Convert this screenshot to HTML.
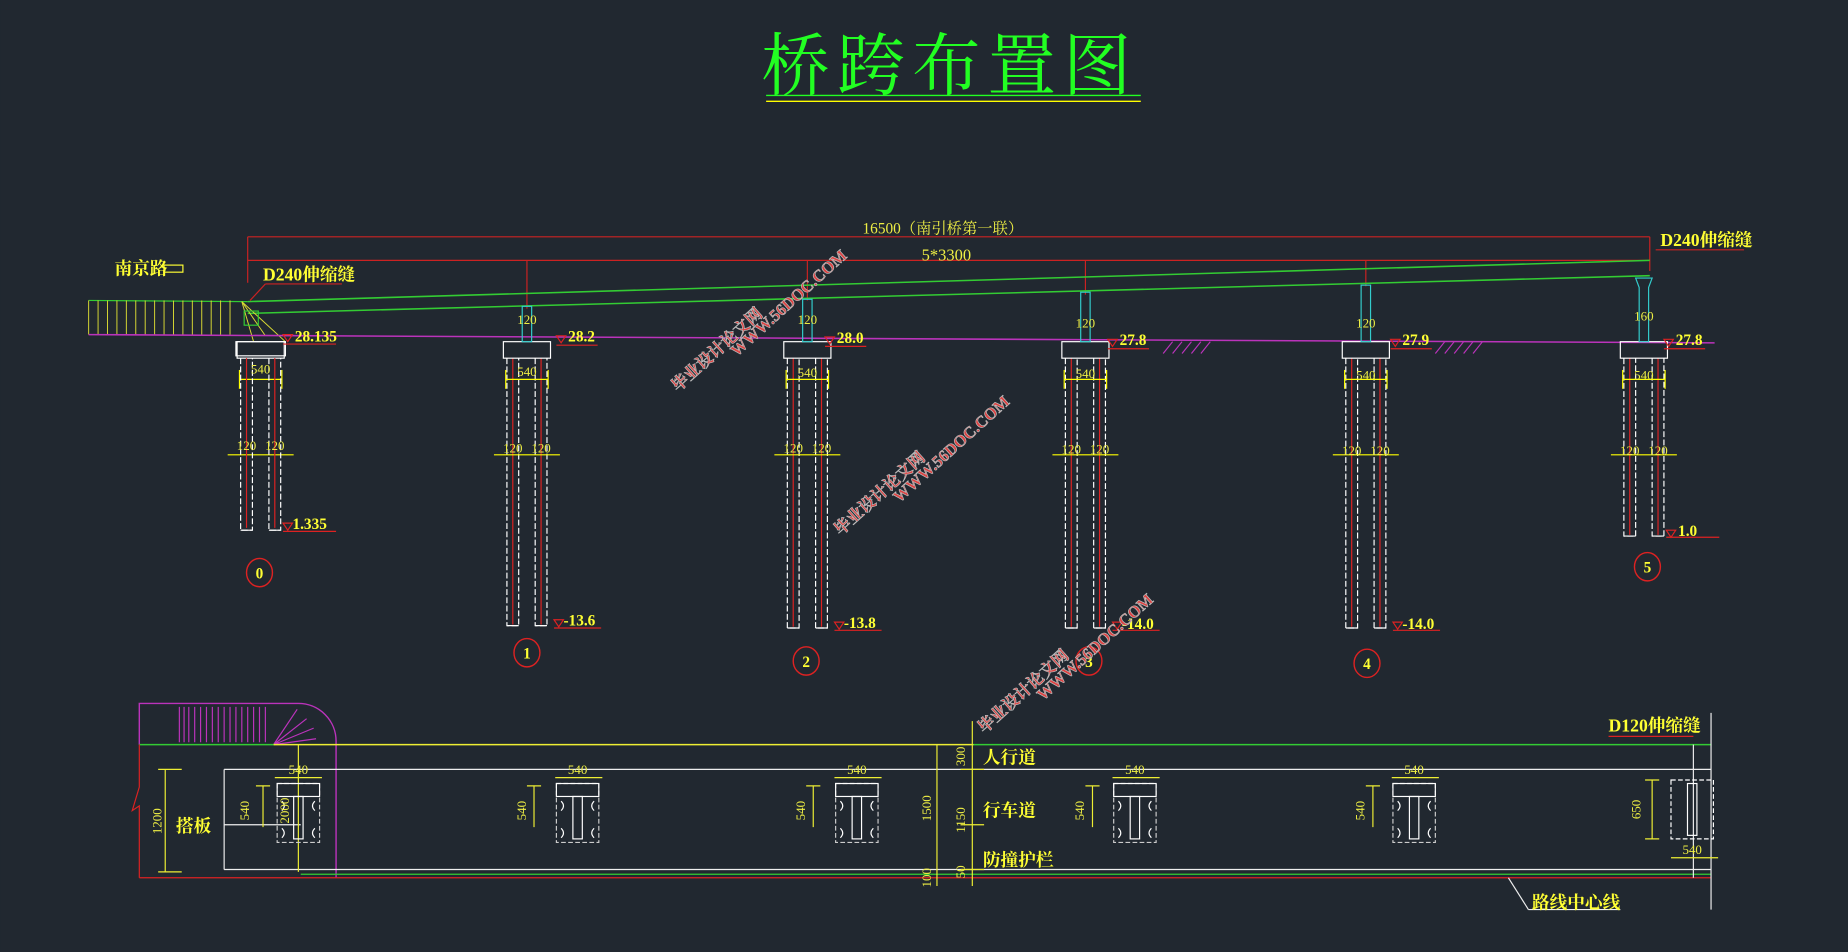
<!DOCTYPE html>
<html><head><meta charset="utf-8"><style>
html,body{margin:0;padding:0;background:#212830;width:1848px;height:952px;overflow:hidden}
svg{display:block}
text{font-family:"Liberation Serif","Noto Serif CJK SC","Noto Sans CJK SC",serif}
</style></head><body>
<svg width="1848" height="952" viewBox="0 0 1568 808" xmlns="http://www.w3.org/2000/svg">
<rect width="1568" height="808" fill="#212830"/>
<defs>
<g id="cap" fill="none">
<rect x="-20" y="290" width="40" height="14" stroke="#fff" stroke-width="1"/>
<line x1="-18" y1="322" x2="18" y2="322" stroke="#ff0" stroke-width="1"/>
<line x1="-18" y1="314" x2="-18" y2="330" stroke="#ff0"/>
<line x1="18" y1="314" x2="18" y2="330" stroke="#ff0"/>
<line x1="-28" y1="386" x2="28" y2="386" stroke="#ff0"/>
</g>
<g id="pl" fill="none">
<rect x="-18" y="-60" width="36" height="50" stroke="#ccc" stroke-dasharray="4 2"/>
<rect x="-18" y="-60" width="36" height="11" stroke="#fff"/>
<path d="M-14 -45 q4 4 0 8 M14 -45 q-4 4 0 8 M-14 -22 q4 4 0 8 M14 -22 q-4 4 0 8" stroke="#fff"/>
<rect x="-4" y="-49" width="8" height="36" stroke="#fff"/>
</g>
</defs>

<!-- title -->
<text x="806" y="76" font-size="58" fill="#2f2" text-anchor="middle" font-family="'Noto Serif CJK SC',serif" letter-spacing="6">桥跨布置图</text>
<line x1="650" y1="81" x2="968" y2="81" stroke="#2f2" stroke-width="1.2"/>
<line x1="650" y1="86" x2="968" y2="86" stroke="#ff0" stroke-width="1.2"/>

<!-- top dims -->
<g stroke="#c22" stroke-width="1" fill="none">
<line x1="210" y1="201" x2="1400" y2="201"/>
<line x1="210" y1="221" x2="1400" y2="221"/>
<line x1="210" y1="201" x2="210" y2="240"/>
<line x1="1400" y1="201" x2="1400" y2="230"/>
<line x1="447" y1="221" x2="447" y2="262"/>
<line x1="685" y1="221" x2="685" y2="255"/>
<line x1="921" y1="221" x2="921" y2="250"/>
<line x1="1159" y1="221" x2="1159" y2="243"/>
</g>
<text x="800" y="198" font-size="13" fill="#ee4" text-anchor="middle">16500（南引桥第一联）</text>
<text x="803" y="221" font-size="14" fill="#ee4" text-anchor="middle">5*3300</text>

<!-- girder -->
<line x1="210" y1="256" x2="1400" y2="221" stroke="#3c3" stroke-width="1.3"/>
<line x1="210" y1="266" x2="1400" y2="234" stroke="#3c3" stroke-width="1.3"/>
<!-- approach -->
<line x1="75" y1="255" x2="210" y2="256" stroke="#3c3"/>
<g stroke="#dd3" stroke-width="0.8">
<line x1="75" y1="255" x2="75" y2="284"/><line x1="83" y1="255" x2="83" y2="284"/><line x1="91" y1="255" x2="91" y2="284"/><line x1="99" y1="255" x2="99" y2="284"/><line x1="107" y1="255" x2="107" y2="284"/><line x1="115" y1="255" x2="115" y2="284"/><line x1="123" y1="255" x2="123" y2="284"/><line x1="131" y1="255" x2="131" y2="284"/><line x1="139" y1="255" x2="139" y2="284"/><line x1="147" y1="255" x2="147" y2="284"/><line x1="155" y1="255" x2="155" y2="284"/><line x1="163" y1="255" x2="163" y2="284"/><line x1="171" y1="255" x2="171" y2="284"/><line x1="179" y1="255" x2="179" y2="284"/><line x1="187" y1="255" x2="187" y2="284"/><line x1="195" y1="255" x2="195" y2="284"/>
<line x1="205" y1="256" x2="225" y2="285"/><line x1="205" y1="256" x2="242" y2="290"/><line x1="205" y1="256" x2="215" y2="290"/>
</g>
<rect x="207" y="264" width="12" height="12" fill="none" stroke="#3c3"/>
<text x="97" y="233" font-size="15" fill="#ff3" font-weight="bold">南京路</text>
<rect x="139" y="225" width="16" height="6" fill="none" stroke="#ff3"/>
<text x="223" y="238" font-size="15" fill="#ff3" font-weight="bold">D240伸缩缝</text>
<line x1="225" y1="241" x2="290" y2="241" stroke="#c22"/>
<line x1="225" y1="241" x2="212" y2="255" stroke="#c22"/>
<text x="1409" y="209" font-size="15" fill="#ff3" font-weight="bold">D240伸缩缝</text>
<line x1="1405" y1="212" x2="1480" y2="212" stroke="#c22"/>

<!-- ground line -->
<line x1="75" y1="284" x2="1455" y2="291" stroke="#b3b" stroke-width="1.3"/>
<g stroke="#b3b"><path d="M987 300l8-10M995 300l8-10M1003 300l8-10M1011 300l8-10M1019 300l8-10M1218 300l8-10M1226 300l8-10M1234 300l8-10M1242 300l8-10M1250 300l8-10"/></g>

<!-- piers -->
<g>
<!-- pier 0 -->
<use href="#cap" x="221"/>
<g fill="none" stroke="#fff"><path d="M204 304V450h10V304M228 304V450h10V304" stroke-dasharray="5 2"/><line x1="204" y1="450" x2="214" y2="450"/><line x1="228" y1="450" x2="238" y2="450"/></g>
<g stroke="#d22"><line x1="209" y1="304" x2="209" y2="448"/><line x1="233" y1="304" x2="233" y2="448"/></g>
<rect x="200" y="290" width="42" height="12" fill="none" stroke="#fff"/>
</g>
<g fill="none" stroke="#fff" stroke-dasharray="5 2">
<path d="M430 304V531h10V304M454 304V531h10V304"/>
<path d="M668 304V533h10V304M692 304V533h10V304"/>
<path d="M904 304V533h10V304M928 304V533h10V304"/>
<path d="M1142 304V533h10V304M1166 304V533h10V304"/>
<path d="M1378 304V455h10V304M1402 304V455h10V304"/>
</g>
<g stroke="#fff"><path d="M430 531h10M454 531h10M668 533h10M692 533h10M904 533h10M928 533h10M1142 533h10M1166 533h10M1378 455h10M1402 455h10"/></g>
<g stroke="#d22"><path d="M435 304V530M459 304V530M673 304V532M697 304V532M909 304V532M933 304V532M1147 304V532M1171 304V532M1383 304V454M1407 304V454"/></g>
<use href="#cap" x="447"/><use href="#cap" x="685"/><use href="#cap" x="921"/><use href="#cap" x="1159"/><use href="#cap" x="1395"/>
<g fill="none" stroke="#3cc">
<rect x="443" y="260" width="8" height="30"/><rect x="681" y="254" width="8" height="36"/><rect x="917" y="248" width="8" height="42"/><rect x="1155" y="242" width="8" height="48"/><path d="M1388 236h14l-3 8v46h-8v-46z"/>
</g>
<g fill="#ee4" font-size="11" text-anchor="middle">
<text x="221" y="317">540</text><text x="447" y="319">540</text><text x="685" y="320">540</text><text x="921" y="321">540</text><text x="1159" y="322">540</text><text x="1395" y="322">540</text>
<text x="209" y="382">120</text><text x="233" y="382">120</text>
<text x="435" y="384">120</text><text x="459" y="384">120</text>
<text x="673" y="384">120</text><text x="697" y="384">120</text>
<text x="909" y="385">120</text><text x="933" y="385">120</text>
<text x="1147" y="386">120</text><text x="1171" y="386">120</text>
<text x="1383" y="386">120</text><text x="1407" y="386">120</text>
<text x="447" y="275">120</text><text x="685" y="275">120</text><text x="921" y="278">120</text><text x="1159" y="278">120</text><text x="1395" y="272">160</text>
</g>
<!-- elevations -->
<g fill="#ff3" font-size="13" font-weight="bold">
<text x="250" y="290">28.135</text><text x="482" y="290">28.2</text><text x="710" y="291">28.0</text><text x="950" y="293">27.8</text><text x="1190" y="293">27.9</text><text x="1422" y="293">27.8</text>
<text x="248" y="449">1.335</text><text x="478" y="531">-13.6</text><text x="716" y="533">-13.8</text><text x="952" y="534">-14.0</text><text x="1190" y="534">-14.0</text><text x="1424" y="455">1.0</text>
</g>
<g stroke="#d22" fill="none">
<path d="M240 284l4 6 4-6zM240 292h45M472 285l4 6 4-6zM472 293h35M700 286l4 6 4-6zM700 294h35M940 288l4 6 4-6zM940 296h35M1180 288l4 6 4-6zM1180 296h35M1412 288l4 6 4-6zM1412 296h35"/>
<path d="M240 444l4 6 4-6zM240 451h45M470 526l4 6 4-6zM470 533h40M708 528l4 6 4-6zM708 535h40M944 528l4 6 4-6zM944 535h40M1182 528l4 6 4-6zM1182 535h40M1414 450l4 6 4-6zM1414 456h45"/>
</g>
<!-- circles -->
<g fill="none" stroke="#d22" stroke-width="1.2">
<ellipse cx="220" cy="486" rx="11" ry="12"/><ellipse cx="447" cy="554" rx="11" ry="12"/><ellipse cx="684" cy="561" rx="11" ry="12"/><ellipse cx="924" cy="561" rx="11" ry="12"/><ellipse cx="1160" cy="563" rx="11" ry="12"/><ellipse cx="1398" cy="481" rx="11" ry="12"/>
</g>
<g fill="#ff3" font-size="13" text-anchor="middle" font-weight="bold">
<text x="220" y="491">0</text><text x="447" y="559">1</text><text x="684" y="566">2</text><text x="924" y="566">3</text><text x="1160" y="568">4</text><text x="1398" y="486">5</text>
</g>

<!-- plan view -->
<path d="M118 632V597h135a32 32 0 0 1 32 32V745" fill="none" stroke="#b3b" stroke-width="1.2"/>
<g stroke="#b3b"><path d="M152 600v30M156 600v30M160 600v30M165 600v30M170 600v30M175 600v30M180 600v30M185 600v30M190 600v30M195 600v30M200 600v30M205 600v30M210 600v30M215 600v30M220 600v30M225 600v30M232 632l20-30M232 632l28-22M232 632l34-14M232 632l36-5"/></g>
<line x1="118" y1="632" x2="232" y2="632" stroke="#3c3" stroke-width="1.2"/>
<line x1="232" y1="632" x2="826" y2="632" stroke="#ee3" stroke-width="1.2"/>
<line x1="826" y1="632" x2="1452" y2="632" stroke="#3c3" stroke-width="1.2"/>
<line x1="190" y1="653" x2="1452" y2="653" stroke="#eee"/>
<line x1="190" y1="738" x2="1452" y2="738" stroke="#eee"/>
<line x1="255" y1="742" x2="1452" y2="742" stroke="#3c3"/>
<line x1="118" y1="745" x2="1452" y2="745" stroke="#d22"/>
<path d="M118 632V668l-6 20 6-4V745" fill="none" stroke="#d22"/>
<line x1="190" y1="653" x2="190" y2="738" stroke="#eee"/>
<line x1="190" y1="700" x2="255" y2="700" stroke="#eee"/>
<line x1="1452" y1="605" x2="1452" y2="772" stroke="#eee"/>
<line x1="1437" y1="632" x2="1437" y2="745" stroke="#eee"/>
<line x1="1280" y1="745" x2="1297" y2="772" stroke="#eee"/>
<line x1="1297" y1="772" x2="1375" y2="772" stroke="#eee"/>
<!-- dims yellow -->
<g stroke="#ee3" fill="none">
<path d="M140 653V740M134 653h20M134 740h20M253 632V740M795 632V752M825 612V752M815 653h20M815 700h20M815 738h20"/>
<path d="M453 667V702M447 667h12M690 667V702M684 667h12M927 667V702M921 667h12M1165 667V702M1159 667h12M223 667V702M217 667h12M1402 662V712M1396 662h12M1396 712h12"/>
<path d="M233 660h40M471 660h40M708 660h40M944 660h40M1181 660h40M1418 728h40"/>
</g>
<use href="#pl" x="253" y="725"/><use href="#pl" x="490" y="725"/><use href="#pl" x="727" y="725"/><use href="#pl" x="963" y="725"/><use href="#pl" x="1200" y="725"/>
<g fill="none" stroke="#fff"><rect x="1418" y="662" width="36" height="50" stroke-dasharray="4 2"/><rect x="1432" y="665" width="8" height="44"/></g>
<g fill="#ee4" font-size="11" text-anchor="middle">
<text x="253" y="657">540</text><text x="490" y="657">540</text><text x="727" y="657">540</text><text x="963" y="657">540</text><text x="1200" y="657">540</text><text x="1436" y="725">540</text>
</g>
<g fill="#ee4" font-size="11" text-anchor="middle">
<text transform="translate(137,697) rotate(-90)">1200</text>
<text transform="translate(211,688) rotate(-90)">540</text>
<text transform="translate(245,688) rotate(-90)">2000</text>
<text transform="translate(446,688) rotate(-90)">540</text>
<text transform="translate(683,688) rotate(-90)">540</text>
<text transform="translate(920,688) rotate(-90)">540</text>
<text transform="translate(1158,688) rotate(-90)">540</text>
<text transform="translate(1392,687) rotate(-90)">650</text>
<text transform="translate(790,686) rotate(-90)">1500</text>
<text transform="translate(819,642) rotate(-90)">300</text>
<text transform="translate(819,696) rotate(-90)">1150</text>
<text transform="translate(819,740) rotate(-90)">50</text>
<text transform="translate(790,745) rotate(-90)">100</text>
</g>
<g fill="#ff3" font-size="15" font-weight="bold">
<text x="834" y="648">人行道</text><text x="834" y="693">行车道</text><text x="834" y="735">防撞护栏</text>
<text x="149" y="706">搭板</text><text x="1365" y="621">D120伸缩缝</text><text x="1300" y="771">路线中心线</text>
</g>
<line x1="1365" y1="625" x2="1437" y2="625" stroke="#d22"/>

<!-- watermarks -->
<g fill="#d44" stroke="#bbb" stroke-width="0.6" font-size="14" font-weight="bold" font-family="'Liberation Sans','Noto Sans CJK SC',sans-serif">
<text transform="translate(575,333) rotate(-42)">毕业设计论文网</text>
<text transform="translate(625,303) rotate(-42)">WWW.56DOC.COM</text>
<text transform="translate(713,455) rotate(-42)">毕业设计论文网</text>
<text transform="translate(763,427) rotate(-42)">WWW.56DOC.COM</text>
<text transform="translate(835,623) rotate(-42)">毕业设计论文网</text>
<text transform="translate(885,595) rotate(-42)">WWW.56DOC.COM</text>
</g>
</svg>
</body></html>
